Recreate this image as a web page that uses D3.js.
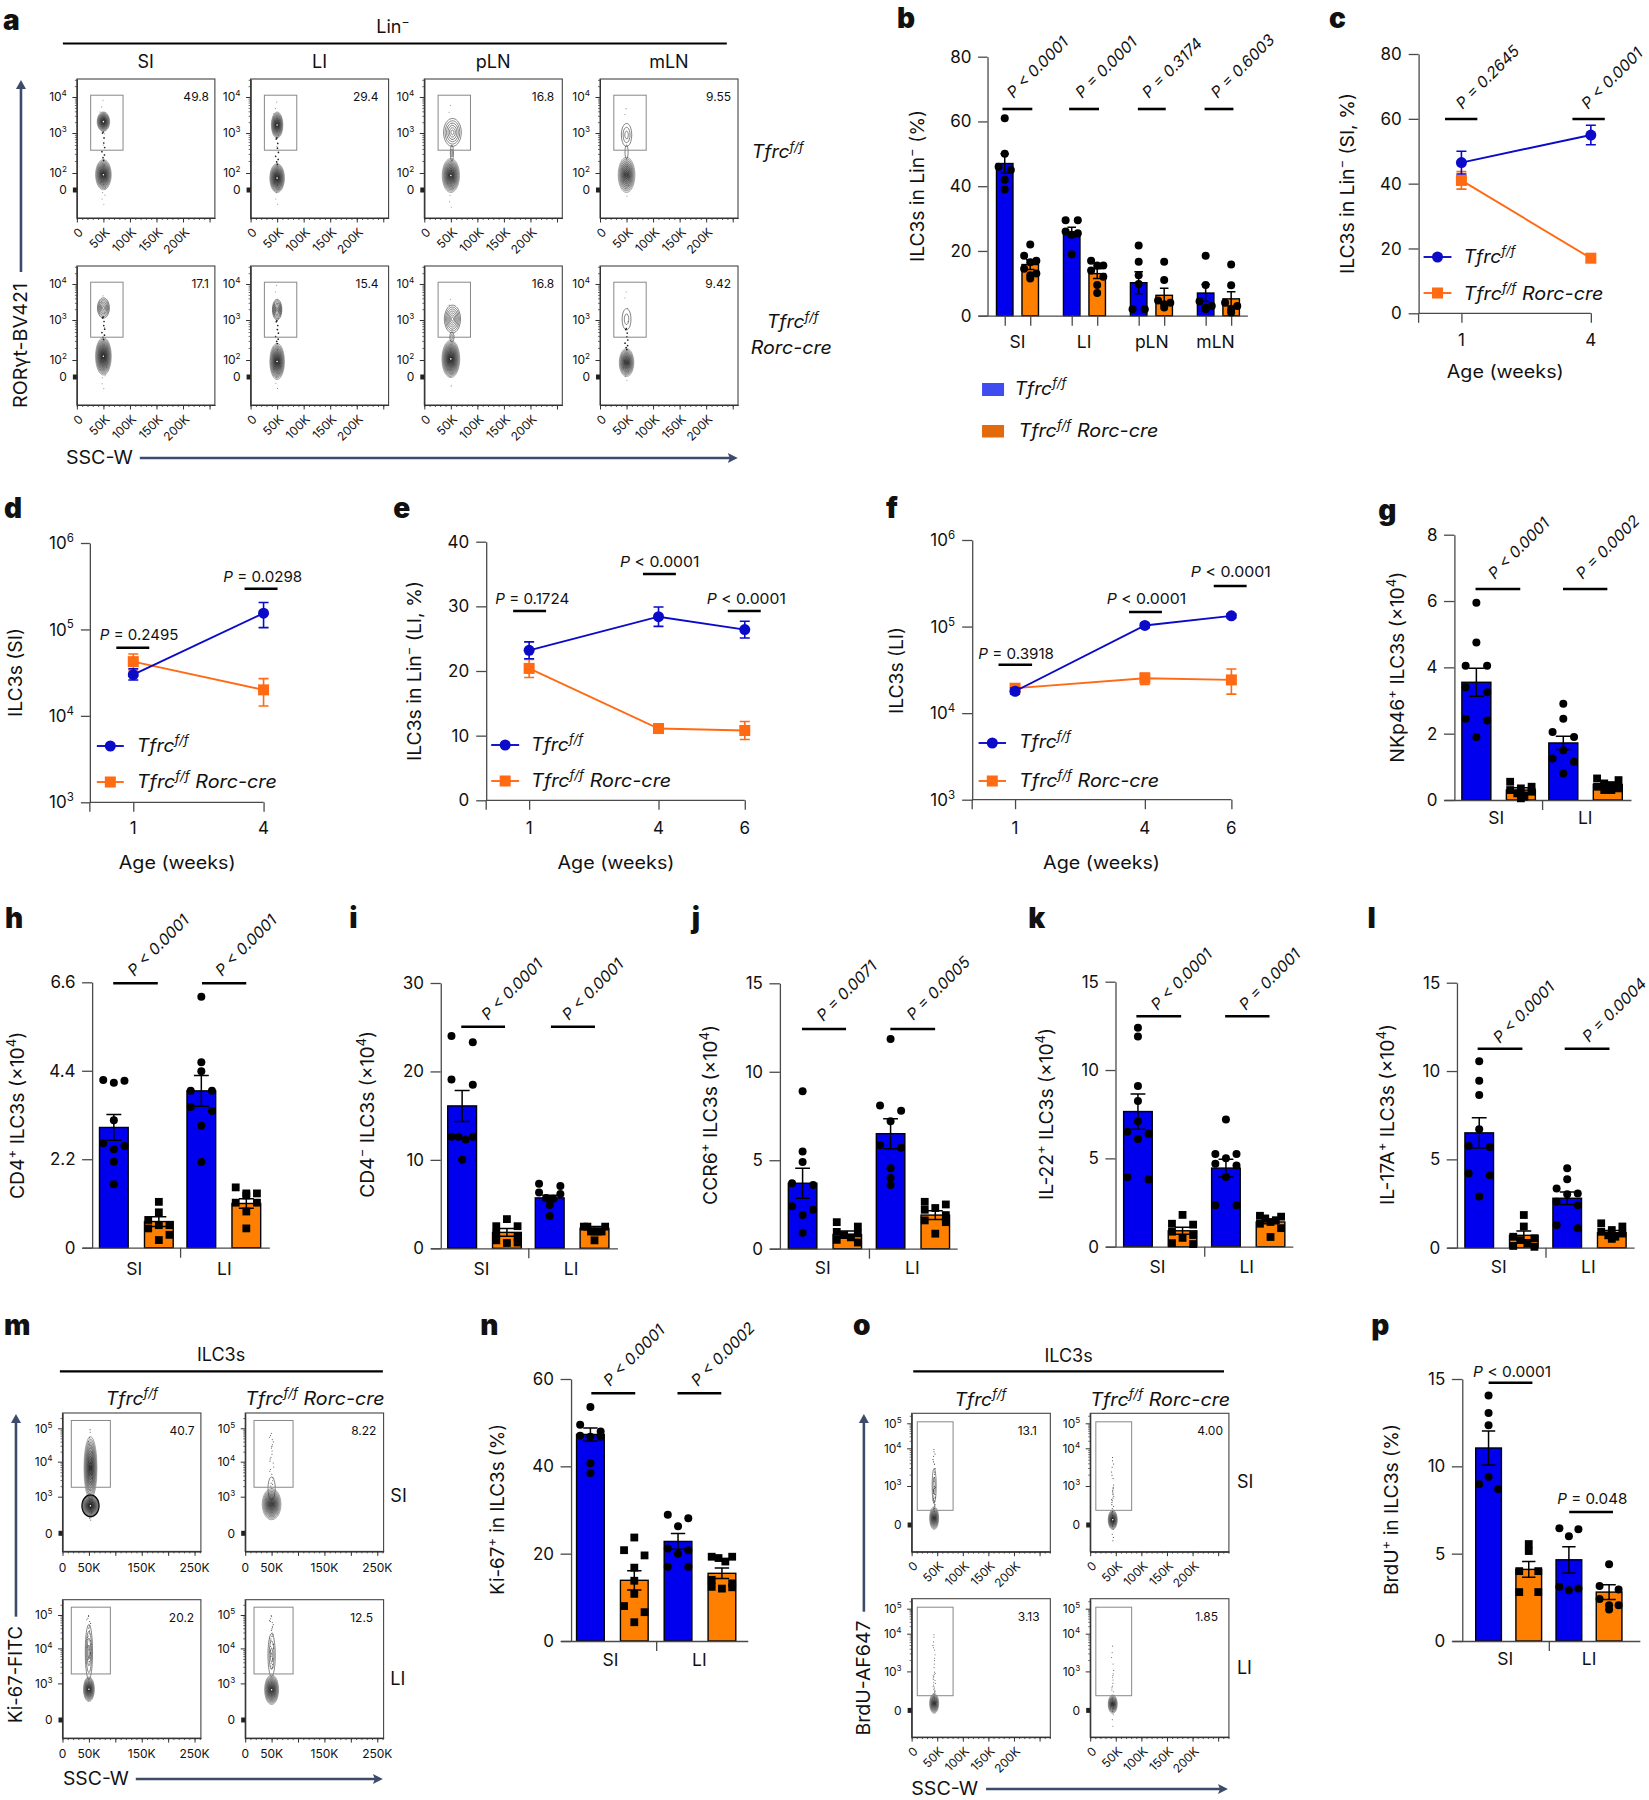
<!DOCTYPE html>
<html><head><meta charset="utf-8">
<script src="https://cdnjs.cloudflare.com/ajax/libs/d3/7.8.5/d3.min.js"></script>
<style>html,body{margin:0;padding:0;background:#fff}svg{display:block}text{font-family:Inter,"Noto Sans",sans-serif;fill:#111}</style>
</head><body><svg id="c" width="1649" height="1800"></svg>
<script>
/* ---------- DATA ---------- */
const tissues2=["SI","LI"];
const tissues4=["SI","LI","pLN","mLN"];
const bMean=[47,15.8,25.8,13,10.2,6.3,7,5.2];
const bSem=[3,1.5,1.5,1.5,3.4,2.2,2.6,2.2];
const bPts=[[61,50,46,45,42,39],[22,18.5,17,16.5,14.5,13,12.5,11.5],[29.5,29.5,26,25.5,25,19],[17,15.5,15.5,14,12,9.5,7],[21.7,16.7,12.5,9.8,2,2],[16.7,11,4.7,4,3.5,2.5],[18.5,9.5,4.5,3,2.5,2],[15.8,9.4,4,3,2,1]];
const gMean=[3.55,.3,1.72,.47];
const gSem=[.42,.07,.2,.05];
const gPts=[[5.95,4.75,4.05,4.05,3.4,3.25,2.45,2.4,1.9],[.55,.4,.35,.3,.25,.2,.1,.05],[2.9,2.45,2.05,1.9,1.5,1.25,1.15,.8],[.65,.6,.5,.45,.4,.35,.3,.3]];
const hMean=[2.99,.65,3.9,1.1];
const hSem=[.32,.12,.38,.12];
const hPts=[[4.17,4.1,4.15,3.17,2.6,2.53,2.45,2.14,1.58],[1.14,.88,.69,.56,.56,.48,.32,.19],[6.24,4.61,4.39,3.9,3.9,3.5,3.4,3.03,2.13],[1.5,1.3,1.35,1.35,1.12,1.12,.9,.48]];
const iMean=[16.1,1.8,5.7,2.26];
const iSem=[1.75,.45,.3,.2];
const iPts=[[24,23.3,19.1,18.5,12.6,12.6,12.6,12.3,10],[3.3,2.5,2.5,1.7,1.3,.9,.65,.6],[7.3,7.05,6.3,6.15,5.7,5.6,4.9,3.65],[2.45,2.45,2.45,1.9,1.9,1.9,1.9,.9]];
const jMean=[3.7,.8,6.5,1.9];
const jSem=[.85,.2,.85,.25];
const jPts=[[8.9,5.5,4.9,3.7,3.6,2.4,2.2,1.9,.9],[1.5,1.25,.95,.87,.77,.64,.5,.35],[11.85,8.1,7.8,7.2,5.85,5.7,4.55,4,3.6],[2.65,2.5,2.3,2.2,1.9,1.6,1.5,.85]];
const kMean=[7.65,.9,4.45,1.4];
const kSem=[1,.2,.5,.1];
const kPts=[[12.4,11.9,9.1,8.25,7.1,6.5,6.4,6.1,3.95,3.8],[1.8,1.3,1.25,.85,.66,.5,.2,.15],[7.2,5.25,5.25,5,4.7,4.6,3.95,2.35,2.35],[1.75,1.7,1.6,1.5,1.4,1.3,1.05,.55]];
const lMean=[6.5,.7,2.8,.85];
const lSem=[.85,.25,.35,.12];
const lPts=[[10.55,9.45,8.65,6.7,5.75,5.7,4.2,4.1,2.9],[1.85,1.2,.62,.53,.43,.25,.1,.05],[4.5,3.87,3.35,3.07,3.03,2.6,2.4,1.28,1.1],[1.38,1.2,1,.9,.8,.7,.62,.5]];
const nMean=[47.3,13.9,22.8,15.5];
const nSem=[1.5,2.2,1.8,1.2];
const nPts=[[53.6,49.5,48,46.8,47,46.8,40.7,38.5],[23.7,20.8,19.6,16.8,13.8,10.8,8,6.6,4.3],[28.9,28.1,26.3,21.2,20.8,20,17,17],[19.3,19.3,19,18.2,14,13.2,12.4,12.3,12]];
const pMean=[11.05,4.1,4.65,2.8];
const pSem=[.98,.45,.75,.42];
const pPts=[[14.05,13.05,12.35,9.4,8.97,8.7],[5.55,5.15,4,4,2.8,2.8],[6.45,6.4,6,3.1,3,2.9],[4.4,3.15,2.95,2.4,2.05,2.05,1.8]];

const cWeeks=[1,4], dWeeks=[1,4], eWeeks=[1,4,6], fWeeks=[1,4,6];
const cWT=[46.5,55], cWTSem=[3.5,3], cKO=[41,17], cKOSem=[2.7,1];
const dWT=[3e4,1.54e5], dWTLo=[2.6e4,1.05e5], dWTHi=[3.5e4,2.05e5];
const dKO=[4.24e4,2e4], dKOLo=[3.3e4,1.3e4], dKOHi=[5.2e4,2.7e4];
const eWT=[23.2,28.4,26.4], eWTSem=[1.3,1.5,1.3], eKO=[20.4,11.1,10.8], eKOSem=[1.4,.7,1.4];
const fWT=[1.79e4,1.03e5,1.33e5], fWTLo=[1.65e4,.97e5,1.26e5], fWTHi=[1.95e4,1.09e5,1.4e5];
const fKO=[1.94e4,2.53e4,2.42e4], fKOLo=[1.75e4,2.15e4,1.66e4], fKOHi=[2.15e4,2.9e4,3.24e4];

const aCols=["SI","LI","pLN","mLN"];
const aFreq=[["49.8","29.4","16.8","9.55"],["17.1","15.4","16.8","9.42"]];
/* flow populations: [SSC-W (K), low, high (decades on the axis), half width (K), contour levels] */
const aBlobs=[
 [[[50,3.04,3.59,12,14],[50,0,2.34,15,13],[50,2.3,3.05,3,0]],[[50,2.87,3.59,11,13],[50,-.1,2.24,14,14],[50,2.2,2.9,3,0]],[[53,2.66,3.41,17,6],[50,-.1,2.37,16.5,12],[52,2.3,2.7,3,2]],[[50,2.66,3.27,10,3],[50,-.1,2.4,16,10],[50,2.35,2.7,3,1]]],
 [[[50,3.05,3.62,11.5,7],[50,.2,2.57,15,14],[50,2.5,3.1,3,0]],[[50,3,3.58,9,8],[50,-.1,2.42,14,13],[50,2.4,3,3,0]],[[53,2.67,3.42,15.5,7],[50,-.03,2.5,17,14],[52,2.45,2.7,4,2]],[[50,2.75,3.32,8.5,2],[50,.03,2.29,14,11],[50,2.25,2.8,3,0]]]];
const aStreams=[[[50,-.6,4.05,22],[50,-.6,4,18],[50,-.7,3.9,14],[50,-.3,3.8,10]],[[50,-.5,3.8,16],[50,-.5,4.1,14],[50,-.4,3.7,10],[50,-.2,3.9,12]]];
const mTitles=["<i>Tfrc<sup>f/f</sup></i>","<i>Tfrc<sup>f/f</sup> Rorc-cre</i>"];
const mRows=["SI","LI"];
const mFreq=[["40.7","8.22"],["20.2","12.5"]];
const mBlobs=[[[[53,2.73,4.77,12.5,11],[53,1.36,3.05,16,16]],[[50,2.73,3.57,7,1],[50,1.09,3.24,18,11]]],[[[50,3.1,4.73,7,4],[50,1.5,3.19,10.5,12]],[[50,3.19,4.45,7,3],[50,1.25,3.25,13.5,12]]]];
const mStreams=[[[53,1,5,30],[50,3.2,4.9,24]],[[50,3.6,5,26],[50,3.4,5,34]]];
const oFreq=[["13.1","4.00"],["3.13","1.85"]];
const oBlobs=[[[[44,1.67,3.47,4,2],[44,-.12,1.41,9,10]],[[44,-.12,1.15,9,12]]],[[[44,-.08,1.31,9,10]],[[44,-.08,1.2,9,10]]]];
const oStreams=[[[44,1,4,36],[44,-.5,3.8,38]],[[44,.9,4,34],[44,-.5,3.8,24]]];
const speckDx=[.1,-.4,.6,-.2,.3,-.7,.15,-.1,.5,-.55,.25,-.3,.8,-.05,.4,-.8,.05,-.25,.65,-.45,.2,.35,-.6,.1,-.15,.55,-.35,.75,-.5,0,.45,-.7,.3,-.2,.6,-.1,.12,-.42,.28,-.08];
const speckT=[.02,.93,.45,.11,.77,.31,.6,.97,.2,.52,.86,.06,.38,.71,.15,.9,.26,.55,.82,.34,.66,.09,.48,.74,.99,.18,.41,.63,.88,.29,.04,.57,.79,.23,.95,.36,.69,.13,.5,.84];

/* ---------- HELPERS ---------- */
const svg=d3.select("#c");
const BLUE="#0000ee",ORANGE="#ff8000",LBLUE="#0a0ac8",LORANGE="#ff6a13",AX="#4a4a4a",ARW="#3d4b6b";
const Z1=x=>x*1.82/1.823, Z2=x=>880+(x-880)*2.03/2.039, Z4=x=>860+(x-860)*1.98/1.987, Z5=x=>x*2.364/2.376, Z6=x=>660+(x-660)*1.577/1.585, Z8=x=>840+(x-840)*1.928/1.938;
function T(g,x,y,str,o={}){
  const size=o.size||17;
  const t=g.append("text").attr("transform",`translate(${x},${y}) rotate(${o.rot||0})`)
    .attr("y",o.base?0:size*.36).attr("text-anchor",o.anchor||"start").attr("font-size",size);
  if(o.weight)t.attr("font-weight",o.weight);
  let it=false,sup=false,pend=0;
  str.split(/(<\/?(?:i|sup)>)/).filter(s=>s).forEach(s=>{
    if(s==="<i>")it=true;else if(s==="</i>")it=false;
    else if(s==="<sup>"){sup=true;pend=-.42*size;}
    else if(s==="</sup>"){sup=false;pend=.42*size;}
    else{const ts=t.append("tspan").text(s);
      if(it)ts.attr("font-style","italic");
      if(sup)ts.attr("font-size",size*.68);
      if(pend){ts.attr("dy",pend);pend=0;}}
  });
  if(o.len)t.attr("textLength",o.len).attr("lengthAdjust","spacingAndGlyphs");
  return t;
}
function L(g,x1,y1,x2,y2,c,w){return g.append("line").attr("x1",x1).attr("y1",y1).attr("x2",x2).attr("y2",y2).attr("stroke",c||"#000").attr("stroke-width",w||1.3);}
function letter(s,x,y){T(svg,x,y,s,{size:28,weight:900});}
function yLabel(g,x,yBot,yTop,str,size){T(g,x,(yBot+yTop)/2,str,{rot:-90,anchor:"middle",size:size||19,len:yBot-yTop});}
function styleAxis(a,col,w){a.selectAll("path.domain").attr("stroke",col||AX).attr("stroke-width",w||1.3);a.selectAll(".tick line").attr("stroke",col||AX).attr("stroke-width",w||1.3);}
function sig(g,x1,x2,y){L(g,x1,y,x2,y,"#000",2.6);}
function arrowV(g,x,y1,y2){L(g,x,y1,x,y2+7,ARW,2.6);g.append("path").attr("fill",ARW).attr("d",`M${x-5},${y2+9}L${x},${y2}L${x+5},${y2+9}Z`);}
function arrowH(g,x1,x2,y){L(g,x1,y,x2-7,y,ARW,2.6);g.append("path").attr("fill",ARW).attr("d",`M${x2-10},${y-5}L${x2},${y}L${x2-10},${y+5}L${x2-8},${y}Z`);}
const sym=(g,sh,x,y,s)=>sh==="s"?g.append("rect").attr("x",x-s).attr("y",y-s).attr("width",2*s).attr("height",2*s):g.append("circle").attr("cx",x).attr("cy",y).attr("r",s);

function swarm(vals,y,maxOff){
  const sorted=vals.slice().sort((a,b)=>b-a),out=[];let i=0;
  while(i<sorted.length){
    let j=i;while(j<sorted.length&&Math.abs(y(sorted[j])-y(sorted[i]))<6.8)j++;
    const k=j-i,slots=d3.range(k).map(q=>k===1?0:-maxOff+2*maxOff*q/(k-1));
    const ord=[];let a=0,b=k-1,flip=true;while(a<=b){ord.push(flip?a++:b--);flip=!flip;}
    for(let q=0;q<k;q++)out.push([slots[ord[q]],sorted[i+q]]);
    i=j;
  }
  return out;
}

function barPanel(o){
  const g=svg.append("g");
  if(o.xf){const F=o.xf;["left","right","axL","axR","axX","labX"].forEach(k=>o[k]=F(o[k]));
    o.catX=o.catX.map(F);o.sig=o.sig.map(s=>[F(s[0]),F(s[1])]);o.plab=o.plab.map(p=>[F(p[0]),p[1],p[2]]);}
  const y=d3.scaleLinear().domain([0,o.ymax]).range([o.y0,o.yTop]);
  const cats=o.cats,gw=2*o.barW+o.gap,step=(o.right-o.left-gw)/(cats.length-1);
  const xo=d3.scaleBand().domain(cats).range([o.left,o.right]).paddingInner(1-gw/step);
  const xi=d3.scaleBand().domain([0,1]).range([0,gw]).paddingInner(o.gap/(o.barW+o.gap));
  const ax=d3.scaleLinear().domain([o.axL,o.axR]).range([o.axL,o.axR]);
  const bars=o.mean.map((m,i)=>{const c=cats[Math.floor(i/2)],s=i%2;return{m,sem:o.sem[i],pts:o.pts[i],x:xo(c)+xi(s),s,i};});
  const w=xi.bandwidth();
  g.selectAll("rect.bar").data(bars).join("rect").attr("class","bar").attr("x",d=>d.x).attr("y",d=>y(d.m)).attr("width",w)
   .attr("height",d=>o.y0-y(d.m)).attr("fill",d=>d.s?ORANGE:BLUE).attr("stroke","#000").attr("stroke-width",1.4);
  const tv=o.perBarTicks?bars.map(d=>d.x+w/2):d3.range(1,cats.length).map(i=>xo(cats[i])-(step-gw)/2);
  const xa=g.append("g").attr("transform",`translate(0,${o.y0})`).call(d3.axisBottom(ax).tickValues(tv).tickSize(10).tickSizeOuter(0).tickFormat(""));
  styleAxis(xa);
  const ya=g.append("g").attr("transform",`translate(${o.axX},0)`).call(d3.axisLeft(y).tickValues(o.ticks).tickSize(o.axX-o.axL).tickSizeOuter(0).tickFormat(o.fmt||(d=>d)));
  styleAxis(ya);
  ya.selectAll("text").attr("font-size",o.tickSize||17).attr("x",-(o.axX-o.axL)-6.5).attr("fill","#111").style("font-family","Inter");
  bars.forEach(d=>{
    const cx=d.x+w/2,cap=w*.26;
    g.append("path").attr("d",`M${cx},${y(d.m-d.sem)}V${y(d.m+d.sem)}M${cx-cap},${y(d.m+d.sem)}H${cx+cap}M${cx-cap},${y(d.m-d.sem)}H${cx+cap}`).attr("fill","none").attr("stroke","#000").attr("stroke-width",1.5);
    const sh=(o.shapes||"cscs")[d.i];
    swarm(d.pts,y,w*.37).forEach(([dx,v])=>sym(g,sh,cx+dx,y(v),sh==="s"?3.9:4).attr("fill","#000"));
  });
  cats.forEach((c,i)=>T(g,o.catX[i],o.catY,c,{anchor:"middle",size:17.5}));
  o.sig.forEach(s=>sig(g,s[0],s[1],o.sigY[0]));
  o.plab.forEach(p=>T(g,p[0],p[1],"<i>"+p[2]+"</i>",{rot:-45,size:15.7}));
  yLabel(g,o.labX,o.labBot,o.labTop,o.label);
  return g;
}
function linePanel(o){
  const g=svg.append("g");
  if(o.xf){const F=o.xf;["x1","xN","axX","axL","ageX","labX"].forEach(k=>o[k]=F(o[k]));
    o.sig=o.sig.map(s=>[F(s[0]),F(s[1]),s[2]]);
    if(o.phoriz)o.phoriz=o.phoriz.map(p=>[F(p[0]),p[1],p[2],p[3]]);
    if(o.prot)o.prot=o.prot.map(p=>[F(p[0]),p[1],p[2]]);
    o.lg.x1=F(o.lg.x1);o.lg.x2=F(o.lg.x2);o.lg.tx=F(o.lg.tx);}
  const x=d3.scaleLinear().domain([o.weeks[0],o.weeks[o.weeks.length-1]]).range([o.x1,o.xN]);
  const y=(o.log?d3.scaleLog():d3.scaleLinear()).domain(o.yDom).range([o.y0,o.yTop]);
  const ya=g.append("g").attr("transform",`translate(${o.axX},0)`).call(d3.axisLeft(y).tickValues(o.ticks).tickSize(o.axX-o.axL).tickSizeOuter(0).tickFormat(d=>""));
  styleAxis(ya);
  L(g,o.axX,o.y0,o.axX,o.y0+9.5,AX,1.3);
  L(g,o.axX,o.y0,o.xN,o.y0,AX,1.3);
  const xa=g.append("g").attr("transform",`translate(0,${o.y0})`).call(d3.axisBottom(x).tickValues(o.weeks).tickSize(9.5).tickSizeOuter(0).tickFormat(""));
  styleAxis(xa);xa.select("path.domain").remove();
  o.ticks.forEach(t=>T(g,o.axL-7,y(t),o.log?`10<sup>${Math.round(Math.log10(t))}</sup>`:""+t,{anchor:"end",size:17}));
  o.weeks.forEach(w=>T(g,x(w),o.tickY,""+w,{anchor:"middle",size:17}));
  T(g,o.ageX,o.ageY,"Age (weeks)",{anchor:"middle",size:18,len:117});
  const draw=(vals,lo,hi,col)=>{
    g.append("path").attr("d",d3.line().x((d,i)=>x(o.weeks[i])).y(d=>y(d))(vals)).attr("fill","none").attr("stroke",col).attr("stroke-width",1.9);
    vals.forEach((v,i)=>{const cx=x(o.weeks[i]);
      g.append("path").attr("d",`M${cx},${y(lo[i])}V${y(hi[i])}M${cx-5},${y(hi[i])}H${cx+5}M${cx-5},${y(lo[i])}H${cx+5}`).attr("fill","none").attr("stroke",col).attr("stroke-width",1.6);
    });
  };
  const marks=(vals,col,sh)=>vals.forEach((v,i)=>sym(g,sh,x(o.weeks[i]),y(v),5.5).attr("fill",col));
  draw(o.ko,o.koLo,o.koHi,LORANGE);marks(o.ko,LORANGE,"s");
  draw(o.wt,o.wtLo,o.wtHi,LBLUE);marks(o.wt,LBLUE,"c");
  o.sig.forEach(s=>sig(g,s[0],s[1],s[2]));
  (o.phoriz||[]).forEach(p=>T(g,p[0],p[1],p[2],{size:15,len:p[3]}));
  (o.prot||[]).forEach(p=>T(g,p[0],p[1],"<i>"+p[2]+"</i>",{rot:-45,size:15.7}));
  yLabel(g,o.labX,o.labBot,o.labTop,o.label);
  const lg=o.lg;
  L(g,lg.x1,lg.y1,lg.x2,lg.y1,LBLUE,1.9);sym(g,"c",(lg.x1+lg.x2)/2,lg.y1,5.5).attr("fill",LBLUE);
  L(g,lg.x1,lg.y2,lg.x2,lg.y2,LORANGE,1.9);sym(g,"s",(lg.x1+lg.x2)/2,lg.y2,5.5).attr("fill",LORANGE);
  T(g,lg.tx,lg.b1,"<i>Tfrc<sup>f/f</sup></i>",{size:18,base:1,len:52});
  T(g,lg.tx,lg.b2,"<i>Tfrc<sup>f/f</sup> Rorc-cre</i>",{size:18,base:1,len:140});
}
const ringLine=d3.line().curve(d3.curveBasisClosed);
function flow(o){
  const g=svg.append("g");
  const x=d3.scaleLinear().domain([0,o.xMax]).range([o.x0,o.x0+o.w]);
  const y=d3.scaleLinear().domain(o.yDom).range(o.yRel.map(r=>o.y0+r));
  g.append("rect").attr("x",o.x0).attr("y",o.y0).attr("width",o.w).attr("height",o.h).attr("fill","#fff").attr("stroke","#444").attr("stroke-width",1.1);
  const xa=g.append("g").attr("transform",`translate(0,${o.y0+o.h})`).call(d3.axisBottom(x).tickValues(d3.range(0,o.xMax,10)).tickSize(2).tickSizeOuter(0).tickFormat(""));
  styleAxis(xa,"#333",.8);
  const xb=g.append("g").attr("transform",`translate(0,${o.y0+o.h})`).call(d3.axisBottom(x).tickValues(o.xMaj).tickSize(4.5).tickSizeOuter(0).tickFormat(""));
  styleAxis(xb,"#333",1);
  const minor=[];o.decades.forEach(k=>{[2,3,4,5,6,7,8,9].forEach(m=>{const v=k+Math.log10(m);if(v<o.yDom[o.yDom.length-1])minor.push(v);});});
  const ya=g.append("g").attr("transform",`translate(${o.x0},0)`).call(d3.axisLeft(y).tickValues(minor).tickSize(2).tickSizeOuter(0).tickFormat(""));
  styleAxis(ya,"#333",.7);
  const yb=g.append("g").attr("transform",`translate(${o.x0},0)`).call(d3.axisLeft(y).tickValues(o.decades).tickSize(4.5).tickSizeOuter(0).tickFormat(""));
  styleAxis(yb,"#333",1);
  g.append("rect").attr("x",o.x0-4).attr("y",y(0)-2.5).attr("width",4).attr("height",5).attr("fill","#222");
  if(o.specks)d3.range(o.specks[3]).forEach(i=>{
    const[xc,lo,hi]=o.specks;
    g.append("circle").attr("cx",x(xc+speckDx[i]*o.spread)).attr("cy",y(lo+(hi-lo)*speckT[i])).attr("r",.55).attr("fill",o.speckCol);
  });
  o.blobs.forEach(([xc,lo,hi,rx,n])=>{
    const cx=x(xc),cy=(y(lo)+y(hi))/2,ry=Math.abs(y(lo)-y(hi))/2,rp=x(rx)-x(0);
    if(n===0){d3.range(9).forEach(i=>g.append("circle").attr("cx",x(xc+speckDx[i]*4)).attr("cy",y(lo+(hi-lo)*speckT[i])).attr("r",.85).attr("fill","#222"));return;}
    const dense=n>=9;
    d3.range(n).forEach(i=>{
      const t=1-i/n;
      const pts=d3.range(20).map(a=>{const th=a/20*2*Math.PI;return[cx+rp*t*Math.cos(th),cy+ry*t*Math.sin(th)];});
      const p=g.append("path").attr("d",ringLine(pts)).attr("stroke-width",i===0&&n>=15?1.7:.6)
       .attr("stroke",i===0&&n>=15?"#000":(dense?d3.interpolateRgb("#777","#111")(i/n):"#333"))
       .attr("fill",dense?"#000":"none");
      if(dense)p.attr("fill-opacity",.085);
    });
    if(n>=12)g.append("circle").attr("cx",cx).attr("cy",cy).attr("r",.8).attr("fill","#fff");
  });
  g.append("rect").attr("x",x(o.gate[0])).attr("y",y(o.gate[3])).attr("width",x(o.gate[1])-x(o.gate[0])).attr("height",y(o.gate[2])-y(o.gate[3])).attr("fill","none").attr("stroke","#888").attr("stroke-width",1);
  T(g,o.fx,o.fy,o.freq,{anchor:"end",size:12});
  o.yLab.forEach(([v,s])=>T(g,o.x0-10,y(v),s,{anchor:"end",size:12}));
  o.xLab.forEach(([v,s])=>{
    if(o.rotate)T(g,x(v)+4,o.y0+o.h+12,s,{anchor:"end",rot:-45,size:12});
    else T(g,x(v),o.y0+o.h+16,s,{anchor:"middle",size:12});
  });
}

/* ---------- PANEL a ---------- */
letter("a",3,20);
T(svg,Z1(393.5),27,"Lin<sup>−</sup>",{anchor:"middle",size:18});
L(svg,Z1(63),43.5,Z1(728),43.5,"#000",2.2);
[146,320,494,670].forEach((x,i)=>T(svg,Z1(x),62,aCols[i],{anchor:"middle",size:18}));
const aX=[77,251,425,601].map(Z1),aY=[79,266];
const decY=[[4,"10<sup>4</sup>"],[3,"10<sup>3</sup>"],[2,"10<sup>2</sup>"],[0,"0"]];
const kLab=[[0,"0"],[50,"50K"],[100,"100K"],[150,"150K"],[200,"200K"]];
aY.forEach((y0,r)=>aX.forEach((x0,c)=>flow({x0,y0,w:138,h:139,xMax:260,yDom:[-1,0,2,3,4,4.5],yRel:[139,111,94,54,18,0],xMaj:[0,50,100,150,200,250],decades:[2,3,4],spread:8,speckCol:"#888",
  gate:[26,87,2.57,4.05],blobs:aBlobs[r][c],specks:aStreams[r][c],freq:aFreq[r][c],fx:x0+[132,128,130,131][c],fy:y0+18,yLab:decY,xLab:kLab,rotate:true})));
T(svg,Z1(753),152,"<i>Tfrc<sup>f/f</sup></i>",{size:18,len:52});
T(svg,Z1(768),322,"<i>Tfrc<sup>f/f</sup></i>",{size:18,len:52});
T(svg,Z1(752),348,"<i>Rorc-cre</i>",{size:18,len:81});
arrowV(svg,Z1(21),272,80);
T(svg,Z1(20),345.5,"RORγt-BV421",{rot:-90,anchor:"middle",size:19,len:125});
T(svg,Z1(66),458,"SSC-W",{size:18,len:67});
arrowH(svg,Z1(140),Z1(739),458);

/* ---------- PANEL b ---------- */
letter("b",Z2(897),18);
barPanel({xf:Z2,cats:tissues4,mean:bMean,sem:bSem,pts:bPts,ymax:80,y0:315.7,yTop:56.7,ticks:[0,20,40,60,80],left:997,right:1241,barW:16.5,gap:9,axL:978.5,axR:1249,axX:988,perBarTicks:true,
  catX:[1018,1085,1153,1217],catY:342,sigY:[109],sig:[[1003,1033],[1070,1100],[1139,1167],[1206,1235]],shapes:"cccccccc",
  plab:[[1010,95,"P < 0.0001"],[1079,95,"P = 0.0001"],[1146,95,"P = 0.3174"],[1215,95,"P = 0.6003"]],labX:917,labBot:262,labTop:110,label:"ILC3s in Lin<sup>−</sup> (%)"});
const lg=svg.append("g");
lg.append("rect").attr("x",Z2(982.5)).attr("y",383).attr("width",22).attr("height",13).attr("fill","#3f4cf0");
lg.append("rect").attr("x",Z2(982.5)).attr("y",425).attr("width",22).attr("height",12.5).attr("fill","#e36a0b");
T(lg,Z2(1015),395,"<i>Tfrc<sup>f/f</sup></i>",{size:18,base:1,len:52});
T(lg,Z2(1019),437,"<i>Tfrc<sup>f/f</sup> Rorc-cre</i>",{size:18,base:1,len:140});

/* ---------- LINE PANELS ---------- */
const semLo=(v,s)=>v.map((d,i)=>d-s[i]),semHi=(v,s)=>v.map((d,i)=>d+s[i]);
letter("c",Z2(1331),18);
linePanel({xf:Z2,weeks:cWeeks,wt:cWT,wtLo:semLo(cWT,cWTSem),wtHi:semHi(cWT,cWTSem),ko:cKO,koLo:semLo(cKO,cKOSem),koHi:semHi(cKO,cKOSem),yDom:[0,80],ticks:[0,20,40,60,80],
  x1:1464,xN:1594,y0:313.3,yTop:54,axX:1421,axL:1411,ageX:1508,tickY:340,ageY:371.5,sig:[[1447.5,1480,119],[1575.5,1608,119]],
  prot:[[1461,106,"P = 0.2645"],[1587,106,"P < 0.0001"]],labX:1349,labBot:274,labTop:93,label:"ILC3s in Lin<sup>−</sup> (SI, %)",
  lg:{x1:1426,x2:1454,y1:257,y2:293,tx:1466,b1:263,b2:300}});
letter("d",4,508);
linePanel({xf:Z1,weeks:dWeeks,log:true,wt:dWT,wtLo:dWTLo,wtHi:dWTHi,ko:dKO,koLo:dKOLo,koHi:dKOHi,yDom:[1e3,1e6],ticks:[1e3,1e4,1e5,1e6],
  x1:133.5,xN:264,y0:802.3,yTop:543,axX:90,axL:81,ageX:177.5,tickY:828,ageY:863,sig:[[116.5,149.5,647.7],[245,278,588.7]],
  phoriz:[[100,635,"<i>P</i> = 0.2495",78.6],[223.6,577,"<i>P</i> = 0.0298",79]],labX:15,labBot:717,labTop:628,label:"ILC3s (SI)",
  lg:{x1:97,x2:124,y1:746,y2:782,tx:137,b1:752,b2:788}});
letter("e",Z1(394),508);
linePanel({xf:Z1,weeks:eWeeks,wt:eWT,wtLo:semLo(eWT,eWTSem),wtHi:semHi(eWT,eWTSem),ko:eKO,koLo:semLo(eKO,eKOSem),koHi:semHi(eKO,eKOSem),yDom:[0,40],ticks:[0,10,20,30,40],
  x1:530,xN:746,y0:800.3,yTop:541.7,axX:487,axL:477,ageX:617,tickY:828,ageY:863,sig:[[514,547,611],[644,677,574],[729,762,611]],
  phoriz:[[496,598.7,"<i>P</i> = 0.1724",74],[621,561.7,"<i>P</i> < 0.0001",79.5],[708,598.7,"<i>P</i> < 0.0001",79]],labX:415,labBot:761,labTop:581,label:"ILC3s in Lin<sup>−</sup> (LI, %)",
  lg:{x1:492,x2:520,y1:745,y2:781,tx:532,b1:751,b2:787}});
letter("f",Z4(886),508);
linePanel({xf:Z4,weeks:fWeeks,log:true,wt:fWT,wtLo:fWTLo,wtHi:fWTHi,ko:fKO,koLo:fKOLo,koHi:fKOHi,yDom:[1e3,1e6],ticks:[1e3,1e4,1e5,1e6],
  x1:1015.6,xN:1232.7,y0:799.7,yTop:540,axX:972.6,axL:962.5,ageX:1102.4,tickY:828,ageY:863,sig:[[999,1032.7,664.7],[1130,1163,612],[1215,1248,586]],
  phoriz:[[978.7,653.3,"<i>P</i> = 0.3918",75.7],[1107.5,599,"<i>P</i> < 0.0001",79.5],[1192,571.7,"<i>P</i> < 0.0001",80]],labX:896,labBot:714,labTop:627,label:"ILC3s (LI)",
  lg:{x1:979,x2:1006.5,y1:743,y2:781,tx:1019.6,b1:748,b2:787}});

/* ---------- BAR PANELS ---------- */
letter("g",Z4(1380),510);
barPanel({xf:Z4,cats:tissues2,mean:gMean,sem:gSem,pts:gPts,ymax:8,y0:800,yTop:534.7,ticks:[0,2,4,6,8],left:1464,right:1625,barW:29,gap:15.5,axL:1446,axR:1633.7,axX:1456.5,
  catX:[1498.4,1587.8],catY:818,sigY:[589],sig:[[1477.7,1522.6],[1565.5,1610]],plab:[[1493,576,"P < 0.0001"],[1581,576,"P = 0.0002"]],labX:1399,labBot:762.7,labTop:571.7,label:"NKp46<sup>+</sup> ILC3s (×10<sup>4</sup>)"});
letter("h",Z5(5),918);
barPanel({xf:Z5,cats:tissues2,mean:hMean,sem:hSem,pts:hPts,ymax:6.6,y0:1247.7,yTop:982.3,ticks:[0,2.2,4.4,6.6],left:100,right:262,barW:28.7,gap:16.3,axL:82.5,axR:270.7,axX:92.6,
  catX:[135,225.5],catY:1269,sigY:[983.3],sig:[[113.8,158.6],[203,247.5]],plab:[[131,973,"P < 0.0001"],[219,973,"P < 0.0001"]],labX:17,labBot:1199,labTop:1031.7,label:"CD4<sup>+</sup> ILC3s (×10<sup>4</sup>)"});
letter("i",Z5(351),918);
barPanel({xf:Z5,cats:tissues2,mean:iMean,sem:iSem,pts:iPts,ymax:30,y0:1248.3,yTop:983,ticks:[0,10,20,30],left:450,right:612,barW:28.8,gap:16,axL:432.7,axR:620.6,axX:443,
  catX:[484,574],catY:1269,sigY:[1026.7],sig:[[463.6,507.6],[553.7,598]],plab:[[486.5,1017,"P < 0.0001"],[567.7,1017,"P < 0.0001"]],labX:369,labBot:1197.7,labTop:1031,label:"CD4<sup>−</sup> ILC3s (×10<sup>4</sup>)"});
letter("j",Z6(692),918);
barPanel({xf:Z6,cats:tissues2,mean:jMean,sem:jSem,pts:jPts,ymax:15,y0:1248.7,yTop:983.3,ticks:[0,5,10,15],left:789,right:951,barW:28.5,gap:16.2,axL:770,axR:958.7,axX:780.5,
  catX:[823.6,913.6],catY:1268,sigY:[1029],sig:[[802.7,847],[891.5,936.5]],plab:[[820,1018,"P = 0.0071"],[910.5,1017,"P = 0.0005"]],labX:710.7,labBot:1205,labTop:1025,label:"CCR6<sup>+</sup> ILC3s (×10<sup>4</sup>)"});
letter("k",Z6(1030),918);
barPanel({xf:Z6,cats:tissues2,mean:kMean,sem:kSem,pts:kPts,ymax:15,y0:1246.7,yTop:981.7,ticks:[0,5,10,15],left:1126,right:1288,barW:28.6,gap:16,axL:1107.7,axR:1296,axX:1117.8,
  catX:[1160,1249.7],catY:1266.7,sigY:[1016.3],sig:[[1138.8,1183.8],[1228,1272.6]],plab:[[1156,1007,"P < 0.0001"],[1244.7,1007,"P = 0.0001"]],labX:1048,labBot:1200,labTop:1028,label:"IL-22<sup>+</sup> ILC3s (×10<sup>4</sup>)"});
letter("l",Z6(1371),918);
barPanel({xf:Z6,cats:tissues2,mean:lMean,sem:lSem,pts:lPts,ymax:15,y0:1247.7,yTop:982.7,ticks:[0,5,10,15],left:1469,right:1631,barW:28.6,gap:16,axL:1450.7,axR:1639,axX:1461,
  catX:[1503,1593],catY:1267,sigY:[1048.7],sig:[[1481.8,1526.8],[1569.3,1614.3]],plab:[[1500,1040,"P < 0.0001"],[1589.6,1039,"P = 0.0004"]],labX:1390.5,labBot:1205,labTop:1024,label:"IL-17A<sup>+</sup> ILC3s (×10<sup>4</sup>)"});
letter("n",Z1(481),1325);
barPanel({xf:Z1,cats:tissues2,mean:nMean,sem:nSem,pts:nPts,ymax:60,y0:1641,yTop:1379,ticks:[0,20,40,60],left:577.5,right:737,barW:27.7,gap:16.2,axL:561.5,axR:749,axX:572,
  catX:[611.5,700.5],catY:1659.3,sigY:[1393.3],sig:[[592.3,636.3],[678.6,722.5]],plab:[[607,1383,"P < 0.0001"],[695,1383,"P < 0.0002"]],labX:498.4,labBot:1595,labTop:1424,label:"Ki-67<sup>+</sup> in ILC3s (%)"});
letter("p",Z8(1374),1325);
const pg=barPanel({xf:Z8,cats:tissues2,mean:pMean,sem:pSem,pts:pPts,ymax:15,y0:1641,yTop:1379,ticks:[0,5,10,15],left:1479,right:1626,barW:25.7,gap:14.5,axL:1455,axR:1644,axX:1465.5,shapes:"cscc",
  catX:[1508.6,1593],catY:1659,sigY:[1382.7],sig:[[1492,1536]],plab:[],labX:1394,labBot:1595,labTop:1424,label:"BrdU<sup>+</sup> in ILC3s (%)"});
sig(pg,Z8(1573),Z8(1617),1512);
T(pg,Z8(1476.4),1371.7,"<i>P</i> < 0.0001",{size:15,len:78});
T(pg,Z8(1561),1499,"<i>P</i> = 0.048",{size:15,len:70});

/* ---------- PANEL m ---------- */
letter("m",4,1325);
T(svg,Z1(221.4),1355,"ILC3s",{anchor:"middle",size:18});
L(svg,Z1(60),1371.3,Z1(383.5),1371.3,"#000",2.2);
T(svg,Z1(106),1405,mTitles[0],{size:18,base:1,len:52});
T(svg,Z1(245.6),1405,mTitles[1],{size:18,base:1,len:139.5});
const mX=[62.6,245.6].map(Z1),mY=[1413,1599.7];
const d5=[[5,"10<sup>5</sup>"],[4,"10<sup>4</sup>"],[3,"10<sup>3</sup>"],[0,"0"]];
const mLab=[[0,"0"],[50,"50K"],[150,"150K"],[250,"250K"]];
const mFx=[[195,377],[194.5,373.6]];
mY.forEach((y0,r)=>mX.forEach((x0,c)=>flow({x0,y0,w:138.4,h:138.4,xMax:262,yDom:[-.4,0,3,4,5,5.45],yRel:[138.4,120.3,83.7,48.7,15.3,0],xMaj:[0,50,100,150,200,250],decades:[3,4,5],spread:5,speckCol:"#555",
  gate:[16.7,90.6,3.27,5.23],blobs:mBlobs[r][c],specks:mStreams[r][c],freq:mFreq[r][c],fx:Z1(mFx[r][c]),fy:y0+18,yLab:d5,xLab:mLab,rotate:false})));
mRows.forEach((s,i)=>T(svg,Z1(391),[1495.7,1679][i],s,{size:18}));
arrowV(svg,Z1(16),1616.7,1414);
T(svg,Z1(15),1674.4,"Ki-67-FITC",{rot:-90,anchor:"middle",size:19,len:97});
T(svg,Z1(63),1779,"SSC-W",{size:18,len:66});
arrowH(svg,Z1(136),Z1(383.5),1779);

/* ---------- PANEL o ---------- */
letter("o",Z8(853),1325);
T(svg,Z8(1069.8),1356,"ILC3s",{anchor:"middle",size:18});
L(svg,Z8(913.6),1371.3,Z8(1226),1371.3,"#000",2.2);
T(svg,Z8(955),1406,mTitles[0],{size:18,base:1,len:52});
T(svg,Z8(1091.5),1406,mTitles[1],{size:18,base:1,len:140});
const oX=[912,1091.5].map(Z8),oY=[1413.3,1598.7];
const oFx=[[1038,1225],[1040.7,1220]];
oY.forEach((y0,r)=>oX.forEach((x0,c)=>flow({x0,y0,w:138.7,h:138.4,xMax:271,yDom:[-.7,0,3,4,5,5.4],yRel:[138.4,111.7,72.7,35,10,0],xMaj:[0,50,100,150,200,250],decades:[3,4,5],spread:2.8,speckCol:r===0?"#333":"#666",
  gate:[11,81,1.13,5.06],blobs:oBlobs[r][c],specks:oStreams[r][c],freq:oFreq[r][c],fx:Z8(oFx[r][c]),fy:y0+17.5,yLab:d5,xLab:kLab,rotate:true})));
mRows.forEach((s,i)=>T(svg,Z8(1239),[1482,1667.7][i],s,{size:18}));
arrowV(svg,Z8(864),1611.7,1414);
T(svg,Z8(862.8),1678,"BrdU-AF647",{rot:-90,anchor:"middle",size:19,len:115});
T(svg,Z8(911.6),1789,"SSC-W",{size:18,len:67});
arrowH(svg,Z8(986.8),Z8(1230),1789);
</script></body></html>
